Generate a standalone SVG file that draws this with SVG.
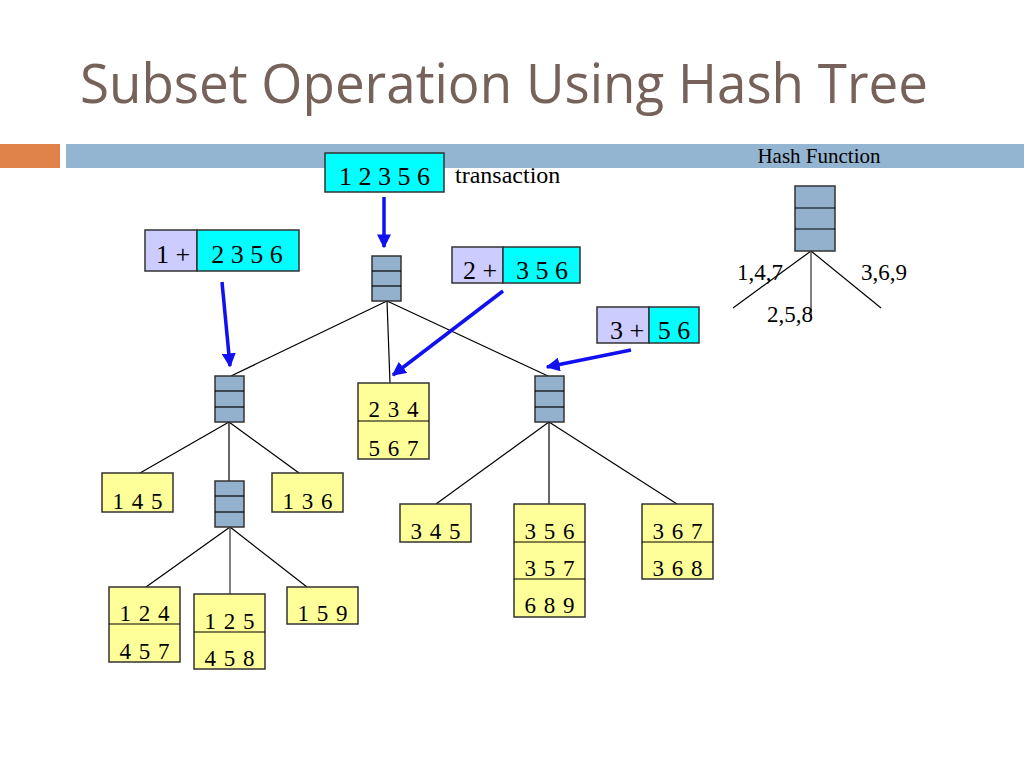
<svg xmlns="http://www.w3.org/2000/svg" width="1024" height="768" viewBox="0 0 1024 768">
<defs>
<marker id="ah" viewBox="0 0 10 10" refX="9" refY="5" markerWidth="4" markerHeight="4" markerUnits="strokeWidth" orient="auto"><path d="M0,0 L10,5 L0,10 z" fill="#1010f0"/></marker>
<style>
.t{font-family:"Liberation Serif","Times New Roman",serif;fill:#000}
.big{font-size:26px}
.leaf{font-size:23px;word-spacing:2px}
.lbl{font-size:23px}
.y{fill:#ffff99;stroke:#333;stroke-width:1.5}
.c{fill:#00ffff;stroke:#333;stroke-width:1.5}
.v{fill:#ccccff;stroke:#333;stroke-width:1.5}
.h{fill:#93b1cd;stroke:#333;stroke-width:1.5}
.e{stroke:#000;stroke-width:1.2;fill:none}
.g{stroke:#808080;stroke-width:2;fill:none}
.a{stroke:#1010f0;stroke-width:3.5;fill:none;marker-end:url(#ah)}
</style>
</defs>
<rect width="1024" height="768" fill="#fff"/>
<text x="80" y="103" font-family="Open Sans, sans-serif" font-size="54" fill="#76625a" textLength="848" lengthAdjust="spacingAndGlyphs">Subset Operation Using Hash Tree</text>
<rect x="0" y="144" width="60" height="24" fill="#e0834a"/>
<rect x="66" y="144" width="958" height="24" fill="#94b5d1"/>

<g id="edges">
<line class="e" x1="387" y1="301" x2="231" y2="376"/>
<line class="e" x1="387" y1="301" x2="390" y2="383"/>
<line class="e" x1="387" y1="301" x2="548" y2="376"/>
<line class="e" x1="229" y1="422" x2="140" y2="473"/>
<line class="e" x1="229" y1="422" x2="229" y2="481"/>
<line class="e" x1="229" y1="422" x2="299" y2="473"/>
<line class="e" x1="230" y1="527" x2="146" y2="587"/>
<line class="g" x1="230" y1="527" x2="230" y2="594"/>
<line class="e" x1="230" y1="527" x2="307" y2="587"/>
<line class="e" x1="549" y1="422" x2="436" y2="504"/>
<line class="e" x1="549" y1="422" x2="549" y2="504"/>
<line class="e" x1="549" y1="422" x2="677" y2="504"/>
<line class="e" x1="811" y1="251" x2="733" y2="308"/>
<line class="g" x1="811" y1="251" x2="811" y2="317"/>
<line class="e" x1="811" y1="251" x2="881" y2="308"/>
<line class="a" x1="384" y1="197" x2="384" y2="247"/>
<line class="a" x1="222" y1="282" x2="230" y2="366"/>
<line class="a" x1="503" y1="291" x2="393" y2="375"/>
<line class="a" x1="631" y1="350" x2="547" y2="367"/>
</g>

<g id="transaction">
<rect class="c" x="325" y="153" width="119" height="39"/>
<text class="t big" x="384.5" y="185" text-anchor="middle">1 2 3 5 6</text>
<text class="t" x="455" y="183" font-size="24">transaction</text>
</g>

<g id="split1">
<rect class="v" x="145" y="230" width="52" height="41"/>
<rect class="c" x="197" y="230" width="102" height="41"/>
<text class="t big" x="173" y="263" text-anchor="middle">1 +</text>
<text class="t big" x="247" y="263" text-anchor="middle">2 3 5 6</text>
</g>

<g id="split2">
<rect class="v" x="452" y="247" width="51" height="36"/>
<rect class="c" x="503" y="247" width="77" height="36"/>
<text class="t big" x="480" y="279" text-anchor="middle">2 +</text>
<text class="t big" x="542" y="279" text-anchor="middle">3 5 6</text>
</g>

<g id="split3">
<rect class="v" x="597" y="307" width="52" height="36"/>
<rect class="c" x="649" y="307" width="50" height="36"/>
<text class="t big" x="627" y="339" text-anchor="middle">3 +</text>
<text class="t big" x="674" y="339" text-anchor="middle">5 6</text>
</g>

<g id="hash-root">
<rect class="h" x="372" y="256" width="29" height="45"/>
<line class="e" x1="372" y1="271" x2="401" y2="271" stroke="#333"/>
<line class="e" x1="372" y1="286" x2="401" y2="286" stroke="#333"/>
</g>
<g id="hash-left">
<rect class="h" x="215" y="376" width="29" height="46"/>
<line class="e" x1="215" y1="391" x2="244" y2="391"/>
<line class="e" x1="215" y1="407" x2="244" y2="407"/>
</g>
<g id="hash-sub">
<rect class="h" x="215" y="481" width="29" height="46"/>
<line class="e" x1="215" y1="496" x2="244" y2="496"/>
<line class="e" x1="215" y1="512" x2="244" y2="512"/>
</g>
<g id="hash-right">
<rect class="h" x="535" y="376" width="29" height="46"/>
<line class="e" x1="535" y1="391" x2="564" y2="391"/>
<line class="e" x1="535" y1="407" x2="564" y2="407"/>
</g>

<g id="leaf-234">
<rect class="y" x="358" y="383" width="71" height="76"/>
<line class="e" x1="358" y1="421" x2="429" y2="421"/>
<text class="t leaf" x="393.5" y="417" text-anchor="middle">2 3 4</text>
<text class="t leaf" x="393.5" y="456" text-anchor="middle">5 6 7</text>
</g>
<g id="leaf-145">
<rect class="y" x="102" y="473" width="71" height="39"/>
<text class="t leaf" x="137.5" y="509" text-anchor="middle">1 4 5</text>
</g>
<g id="leaf-136">
<rect class="y" x="272" y="473" width="71" height="39"/>
<text class="t leaf" x="307.5" y="509" text-anchor="middle">1 3 6</text>
</g>
<g id="leaf-124">
<rect class="y" x="109" y="587" width="71" height="75"/>
<line class="e" x1="109" y1="624" x2="180" y2="624"/>
<text class="t leaf" x="144.5" y="621" text-anchor="middle">1 2 4</text>
<text class="t leaf" x="144.5" y="659" text-anchor="middle">4 5 7</text>
</g>
<g id="leaf-125">
<rect class="y" x="194" y="594" width="71" height="75"/>
<line class="e" x1="194" y1="632" x2="265" y2="632"/>
<text class="t leaf" x="229.5" y="629" text-anchor="middle">1 2 5</text>
<text class="t leaf" x="229.5" y="666" text-anchor="middle">4 5 8</text>
</g>
<g id="leaf-159">
<rect class="y" x="287" y="587" width="71" height="37"/>
<text class="t leaf" x="322.5" y="621" text-anchor="middle">1 5 9</text>
</g>
<g id="leaf-345">
<rect class="y" x="400" y="504" width="71" height="38"/>
<text class="t leaf" x="435.5" y="539" text-anchor="middle">3 4 5</text>
</g>
<g id="leaf-356">
<rect class="y" x="514" y="504" width="71" height="113"/>
<line class="e" x1="514" y1="542" x2="585" y2="542"/>
<line class="e" x1="514" y1="579" x2="585" y2="579"/>
<text class="t leaf" x="549.5" y="539" text-anchor="middle">3 5 6</text>
<text class="t leaf" x="549.5" y="576" text-anchor="middle">3 5 7</text>
<text class="t leaf" x="549.5" y="613" text-anchor="middle">6 8 9</text>
</g>
<g id="leaf-367">
<rect class="y" x="642" y="504" width="71" height="75"/>
<line class="e" x1="642" y1="542" x2="713" y2="542"/>
<text class="t leaf" x="677.5" y="539" text-anchor="middle">3 6 7</text>
<text class="t leaf" x="677.5" y="576" text-anchor="middle">3 6 8</text>
</g>

<g id="hash-function">
<text class="t" x="819" y="163" font-size="21" text-anchor="middle">Hash Function</text>
<rect class="h" x="795" y="186" width="40" height="65"/>
<line class="e" x1="795" y1="208" x2="835" y2="208" stroke="#333" stroke-width="2"/>
<line class="e" x1="795" y1="229" x2="835" y2="229" stroke="#333" stroke-width="2"/>
<text class="t lbl" x="737" y="280">1,4,7</text>
<text class="t lbl" x="861" y="280">3,6,9</text>
<text class="t lbl" x="767" y="322">2,5,8</text>
</g>
</svg>
